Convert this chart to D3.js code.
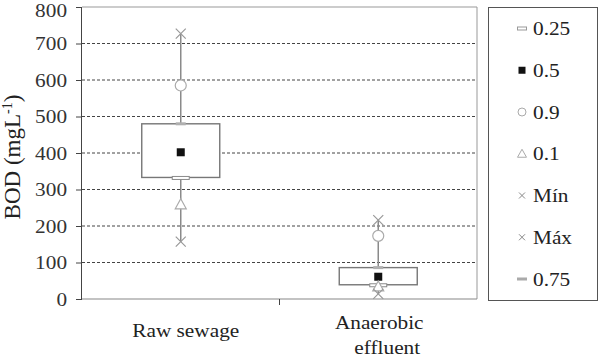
<!DOCTYPE html>
<html><head><meta charset="utf-8">
<script src="https://cdn.jsdelivr.net/npm/d3@7"></script>
<style>body{margin:0;background:#fff}svg{display:block}</style>
</head><body>
<svg id="c" width="600" height="359"></svg>
<script>
const categories = ["Raw sewage", "Anaerobic effluent"];
const q25 = [333, 39];
const q50 = [402, 61];
const q90 = [585, 173];
const q10 = [258, 33];
const vMin = [157, 14];
const vMax = [727, 216];
const q75 = [480, 86];
const yTicks = [0, 100, 200, 300, 400, 500, 600, 700, 800];
const legendLabels = ["0.25", "0.5", "0.9", "0.1", "Mín", "Máx", "0.75"];

const svg = d3.select("#c");
const font = "'Liberation Serif','Times New Roman',serif";
const STRETCH = 1.12;
function stretch(sel) {
  sel.each(function () {
    const len = this.getComputedTextLength();
    d3.select(this).attr("textLength", len * STRETCH).attr("lengthAdjust", "spacingAndGlyphs");
  });
}
const L = 82, R = 477, T = 7, B = 299;
const x = d3.scaleBand().domain(categories).range([L, R]).padding(0);
const y = d3.scaleLinear().domain([0, 800]).range([B, T]);

// gridlines
svg.append("g").selectAll("line").data(yTicks.filter(d => d > 0 && d < 800)).join("line")
  .attr("x1", L).attr("x2", R).attr("y1", d => y(d)).attr("y2", d => y(d))
  .attr("stroke", "#444").attr("stroke-width", 1).attr("stroke-dasharray", "3,2");

// frame top & right
svg.append("line").attr("x1", L).attr("x2", R).attr("y1", T).attr("y2", T).attr("stroke", "#999");
svg.append("line").attr("x1", R).attr("x2", R).attr("y1", T).attr("y2", B).attr("stroke", "#999");

// y axis
const ya = d3.axisLeft(y).tickValues(yTicks).tickSize(6).tickPadding(9);
const gy = svg.append("g").attr("transform", `translate(${L},0)`).call(ya);
gy.select(".domain").attr("stroke", "#444").attr("d", `M-0.5,${T}V${B}`);
gy.selectAll(".tick line").attr("stroke", "#444");
gy.selectAll("text").attr("font-family", font).attr("font-size", 19).attr("fill", "#333")
  .attr("dy", d => d === 800 ? "0.5em" : "0.33em");
stretch(gy.selectAll("text"));

// x axis
svg.append("line").attr("x1", L).attr("x2", R).attr("y1", B).attr("y2", B).attr("stroke", "#888").attr("stroke-width", 1.2);
svg.append("line").attr("x1", x.step() + L).attr("x2", x.step() + L).attr("y1", B).attr("y2", B + 6).attr("stroke", "#444");

// category labels
const xl = svg.append("g").attr("font-family", font).attr("font-size", 19).attr("fill", "#222").attr("text-anchor", "middle");
const c0 = x(categories[0]) + x.bandwidth() / 2, c1 = x(categories[1]) + x.bandwidth() / 2;
const words = categories[1].split(" ");
xl.append("text").attr("x", c0 + 5).attr("y", 337).text(categories[0]);
xl.append("text").attr("x", c1 + 1).attr("y", 329).text(words[0]);
xl.append("text").attr("x", c1 + 9).attr("y", 354).text(words[1]);
stretch(xl.selectAll("text"));

// y title
const yt = svg.append("text").attr("transform", "translate(20,157) rotate(-90)")
  .attr("font-family", font).attr("font-size", 23).attr("fill", "#222").attr("text-anchor", "middle");
yt.append("tspan").text("BOD (mgL");
yt.append("tspan").attr("font-size", 14).attr("dy", -8).text("-1");
yt.append("tspan").attr("dy", 8).text(")");

const boxW = 78;
const grey = "#8a8a8a";
categories.forEach((c, i) => {
  const cx = x(c) + x.bandwidth() / 2;
  const g = svg.append("g");
  g.append("line").attr("x1", cx).attr("x2", cx).attr("y1", y(vMin[i])).attr("y2", y(vMax[i])).attr("stroke", grey).attr("stroke-width", 1.5);
  g.append("rect").attr("x", cx - boxW / 2).attr("width", boxW).attr("y", y(q75[i])).attr("height", y(q25[i]) - y(q75[i]))
    .attr("fill", "#fff").attr("stroke", "#777").attr("stroke-width", 1.4);
  // 0.75 marker
  g.append("rect").attr("x", cx - 5).attr("y", y(q75[i]) - 1.5).attr("width", 10).attr("height", 3).attr("fill", "#b0b0b0");
  // 0.25 marker
  g.append("rect").attr("x", cx - 8.5).attr("y", y(q25[i]) - 1).attr("width", 17).attr("height", 3).attr("fill", "#fff").attr("stroke", grey).attr("stroke-width", 1);
  // median
  g.append("rect").attr("x", cx - 4).attr("y", y(q50[i]) - 4).attr("width", 8).attr("height", 8).attr("fill", "#111");
  // 0.9
  g.append("circle").attr("cx", cx).attr("cy", y(q90[i])).attr("r", 5.5).attr("fill", "#fff").attr("stroke", "#aaa").attr("stroke-width", 1.2);
  // 0.1 triangle
  const ty = y(q10[i]);
  g.append("path").attr("d", `M${cx},${ty - 6}L${cx + 5.5},${ty + 4}L${cx - 5.5},${ty + 4}Z`).attr("fill", "#fff").attr("stroke", "#aaa").attr("stroke-width", 1.2);
  // min, max x
  [vMin[i], vMax[i]].forEach(v => {
    const yy = y(v);
    g.append("path").attr("d", `M${cx - 5},${yy - 5}L${cx + 5},${yy + 5}M${cx + 5},${yy - 5}L${cx - 5},${yy + 5}`).attr("stroke", "#999").attr("stroke-width", 1.2);
  });
});

// legend
const lg = svg.append("g");
lg.append("rect").attr("x", 488.5).attr("y", 7.5).attr("width", 109).attr("height", 293).attr("fill", "#fff").attr("stroke", "#555");
const ly = d3.scalePoint().domain(legendLabels).range([28.5, 279]);
legendLabels.forEach((lab, i) => {
  const yy = ly(lab), sx = 522;
  const s = lg.append("g");
  if (i === 0) s.append("rect").attr("x", sx - 4.5).attr("y", yy - 1.5).attr("width", 9).attr("height", 3).attr("fill", "#fff").attr("stroke", "#999");
  if (i === 1) s.append("rect").attr("x", sx - 3.5).attr("y", yy - 3.5).attr("width", 7).attr("height", 7).attr("fill", "#111");
  if (i === 2) s.append("circle").attr("cx", sx).attr("cy", yy).attr("r", 4).attr("fill", "#fff").attr("stroke", "#aaa");
  if (i === 3) s.append("path").attr("d", `M${sx},${yy - 4.5}L${sx + 4.5},${yy + 3.5}L${sx - 4.5},${yy + 3.5}Z`).attr("fill", "#fff").attr("stroke", "#aaa");
  if (i === 4 || i === 5) s.append("path").attr("d", `M${sx - 3},${yy - 3}L${sx + 3},${yy + 3}M${sx + 3},${yy - 3}L${sx - 3},${yy + 3}`).attr("stroke", "#888");
  if (i === 6) s.append("rect").attr("x", sx - 5).attr("y", yy - 1.5).attr("width", 10).attr("height", 3).attr("fill", "#aaa");
  lg.append("text").attr("x", 533).attr("y", yy + 6.5).attr("font-family", font).attr("font-size", 19).attr("fill", "#222").text(lab);
});
stretch(lg.selectAll("text"));
</script>
</body></html>
